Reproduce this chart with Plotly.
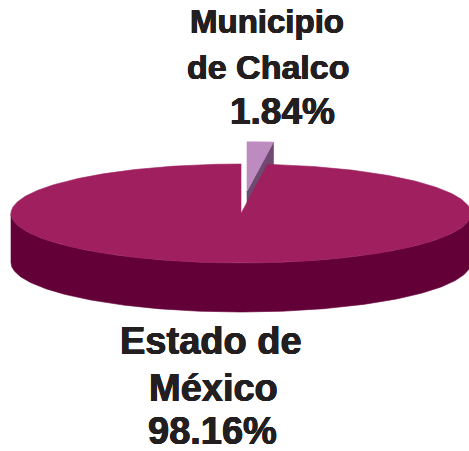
import numpy as np
import plotly.graph_objects as go

# Share of the state total
labels = ["Estado de México", "Municipio de Chalco"]
values = [98.16, 1.84]
label_lines = [["Estado de", "México", "98.16%"], ["Municipio", "de Chalco", "1.84%"]]

W, H = 469, 451
# 3D pie geometry (pixel space, y grows downward)
cx, cy = 241.0, 213.5
a, b = 230.0, 49.5
depth = 49.0
explode = 0.45

top_colors = ["#9f1f5f", "#be8bc0"]
side_colors = ["#640038", "#6e4a70"]

total = sum(values)
fracs = [v / total for v in values]
# Small slice starts at 12 o'clock and runs clockwise; the large slice takes the rest
small_start = 0.0
small_end = 2 * np.pi * fracs[1]
big_start, big_end = small_end, 2 * np.pi


def rim(theta, dx=0.0, dy=0.0, dz=0.0):
    return cx + dx + a * np.sin(theta), cy + dy - b * np.cos(theta) + dz


def poly(xs, ys, color):
    return go.Scatter(x=list(xs), y=list(ys), mode="lines", fill="toself",
                      fillcolor=color, line=dict(width=0.6, color=color),
                      hoverinfo="skip", showlegend=False)


fig = go.Figure()

# Exploded small slice
mid = (small_start + small_end) / 2
ox, oy = explode * a * np.sin(mid), -explode * b * np.cos(mid)
# radial cut face on its clockwise side
p1 = rim(small_end, ox, oy)
fx = [cx + ox, p1[0], p1[0], cx + ox, cx + ox]
fy = [cy + oy, p1[1], p1[1] + depth, cy + oy + depth, cy + oy]
fig.add_trace(poly(fx, fy, side_colors[1]))
t = np.linspace(small_start, small_end, 40)
sx, sy = rim(t, ox, oy)
fig.add_trace(poly(np.r_[cx + ox, sx, cx + ox], np.r_[cy + oy, sy, cy + oy], top_colors[1]))

# Large slice: front rim side face
t = np.linspace(np.pi / 2, 3 * np.pi / 2, 200)
ux, uy = rim(t)
lx, ly = rim(t[::-1], dz=depth)
fig.add_trace(poly(np.r_[ux, lx, ux[0]], np.r_[uy, ly, uy[0]], side_colors[0]))
# Large slice: top face
t = np.linspace(big_start, big_end, 400)
bx, by = rim(t)
fig.add_trace(poly(np.r_[cx, bx, cx], np.r_[cy, by, cy], top_colors[0]))

text_font = "Liberation Sans"
ink = "#231f20"
# slight outline to thicken the bold strokes
heavy = ", ".join("%spx %spx 0 %s" % (dx, dy, ink)
                  for dx, dy in ((0.5, 0), (-0.5, 0), (0, 0.4), (0, -0.4)))
# (center x, baseline y, size) for each text line
big_pos = [(211, 355, 38), (213, 402, 38), (212, 445, 38)]
small_pos = [(267, 33, 33), (268, 79, 34), (282, 125, 37)]
for lines, pos in ((label_lines[0], big_pos), (label_lines[1], small_pos)):
    for line, (x, base, size) in zip(lines, pos):
        fig.add_annotation(x=x, y=base - 0.36 * size, text=line,
                           showarrow=False, xanchor="center", yanchor="middle",
                           font=dict(family=text_font, size=size, color=ink,
                                     weight="bold", shadow=heavy))

fig.update_layout(
    width=W, height=H, margin=dict(l=0, r=0, t=0, b=0),
    paper_bgcolor="white", plot_bgcolor="white",
    xaxis=dict(range=[0, W], visible=False, fixedrange=True),
    yaxis=dict(range=[H, 0], visible=False, fixedrange=True),
)
fig.write_html("out.html", config={"displayModeBar": False})
